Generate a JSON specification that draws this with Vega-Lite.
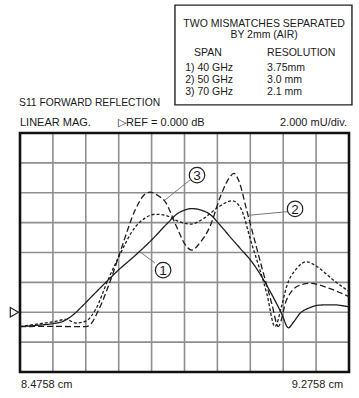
{
  "$schema": "https://vega.github.io/schema/vega-lite/v6.json",
  "width": 359,
  "height": 398,
  "autosize": {"type": "fit", "contains": "padding"},
  "padding": 0,
  "background": "white",
  "config": {"view": {"stroke": null}, "text": {"font": "Liberation Sans", "color": "#1a1a1a"}},
  "datasets": {
    "vgrid": [{"g": 1}, {"g": 2}, {"g": 3}, {"g": 4}, {"g": 5}, {"g": 6}, {"g": 7}, {"g": 8}, {"g": 9}],
    "hgrid": [{"g": 1}, {"g": 2}, {"g": 3}, {"g": 4}, {"g": 5}, {"g": 6}, {"g": 7}],
    "curves": [
      {"s": "1", "x": 0, "y": 1.52}, {"s": "1", "x": 0.5, "y": 1.56}, {"s": "1", "x": 1.0, "y": 1.62}, {"s": "1", "x": 1.27, "y": 1.68},
      {"s": "1", "x": 1.6, "y": 1.9}, {"s": "1", "x": 1.87, "y": 2.18}, {"s": "1", "x": 2.2, "y": 2.55}, {"s": "1", "x": 2.58, "y": 2.97},
      {"s": "1", "x": 3.0, "y": 3.42}, {"s": "1", "x": 3.5, "y": 3.9}, {"s": "1", "x": 4.0, "y": 4.42}, {"s": "1", "x": 4.5, "y": 5.0},
      {"s": "1", "x": 4.76, "y": 5.28}, {"s": "1", "x": 5.0, "y": 5.42}, {"s": "1", "x": 5.22, "y": 5.47}, {"s": "1", "x": 5.5, "y": 5.42},
      {"s": "1", "x": 5.77, "y": 5.28}, {"s": "1", "x": 6.08, "y": 4.92}, {"s": "1", "x": 6.38, "y": 4.53}, {"s": "1", "x": 6.7, "y": 4.13},
      {"s": "1", "x": 7.08, "y": 3.64}, {"s": "1", "x": 7.5, "y": 2.9}, {"s": "1", "x": 7.95, "y": 1.96}, {"s": "1", "x": 8.16, "y": 1.48},
      {"s": "1", "x": 8.3, "y": 1.65}, {"s": "1", "x": 8.51, "y": 1.96}, {"s": "1", "x": 8.8, "y": 2.15}, {"s": "1", "x": 9.12, "y": 2.24},
      {"s": "1", "x": 9.5, "y": 2.25}, {"s": "1", "x": 10.0, "y": 2.18},
      {"s": "2", "x": 0, "y": 1.52}, {"s": "2", "x": 0.5, "y": 1.6}, {"s": "2", "x": 1.0, "y": 1.68}, {"s": "2", "x": 1.4, "y": 1.76},
      {"s": "2", "x": 1.7, "y": 1.64}, {"s": "2", "x": 2.0, "y": 1.7}, {"s": "2", "x": 2.3, "y": 2.1}, {"s": "2", "x": 2.68, "y": 3.1},
      {"s": "2", "x": 3.0, "y": 3.85}, {"s": "2", "x": 3.5, "y": 4.85}, {"s": "2", "x": 3.8, "y": 5.15}, {"s": "2", "x": 4.1, "y": 5.28},
      {"s": "2", "x": 4.4, "y": 5.25}, {"s": "2", "x": 4.8, "y": 5.05}, {"s": "2", "x": 5.17, "y": 4.95}, {"s": "2", "x": 5.6, "y": 5.15},
      {"s": "2", "x": 6.0, "y": 5.5}, {"s": "2", "x": 6.45, "y": 5.73}, {"s": "2", "x": 6.7, "y": 5.5}, {"s": "2", "x": 7.04, "y": 4.3},
      {"s": "2", "x": 7.5, "y": 2.63}, {"s": "2", "x": 7.75, "y": 1.52}, {"s": "2", "x": 7.95, "y": 2.2}, {"s": "2", "x": 8.1, "y": 2.85},
      {"s": "2", "x": 8.4, "y": 3.45}, {"s": "2", "x": 8.71, "y": 3.69}, {"s": "2", "x": 9.0, "y": 3.55}, {"s": "2", "x": 9.5, "y": 3.1},
      {"s": "2", "x": 10.0, "y": 2.69},
      {"s": "3", "x": 0, "y": 1.52}, {"s": "3", "x": 1.0, "y": 1.53}, {"s": "3", "x": 1.6, "y": 1.52}, {"s": "3", "x": 2.0, "y": 1.52},
      {"s": "3", "x": 2.13, "y": 1.58}, {"s": "3", "x": 2.4, "y": 2.1}, {"s": "3", "x": 2.79, "y": 3.19}, {"s": "3", "x": 3.1, "y": 4.2},
      {"s": "3", "x": 3.5, "y": 5.42}, {"s": "3", "x": 3.75, "y": 5.9}, {"s": "3", "x": 3.95, "y": 6.02}, {"s": "3", "x": 4.2, "y": 5.9},
      {"s": "3", "x": 4.4, "y": 5.72}, {"s": "3", "x": 4.76, "y": 4.86}, {"s": "3", "x": 5.0, "y": 4.3}, {"s": "3", "x": 5.22, "y": 4.08},
      {"s": "3", "x": 5.45, "y": 4.3}, {"s": "3", "x": 5.77, "y": 4.86}, {"s": "3", "x": 6.1, "y": 5.9}, {"s": "3", "x": 6.38, "y": 6.53},
      {"s": "3", "x": 6.5, "y": 6.65}, {"s": "3", "x": 6.65, "y": 6.4}, {"s": "3", "x": 6.89, "y": 5.42}, {"s": "3", "x": 7.29, "y": 3.75},
      {"s": "3", "x": 7.65, "y": 2.3}, {"s": "3", "x": 7.85, "y": 1.52}, {"s": "3", "x": 8.1, "y": 2.41}, {"s": "3", "x": 8.51, "y": 2.91},
      {"s": "3", "x": 8.81, "y": 2.97}, {"s": "3", "x": 9.4, "y": 2.8}, {"s": "3", "x": 10.0, "y": 2.52}
    ]
  },
  "layer": [
    {
      "data": {"name": "vgrid"},
      "mark": {"type": "rule", "color": "#8f8f8f", "strokeWidth": 1.6},
      "encoding": {
        "x": {"field": "g", "type": "quantitative", "scale": {"domain": [-0.608, 10.304], "nice": false, "zero": false}, "axis": null},
        "y": {"datum": 0, "type": "quantitative", "scale": {"domain": [-0.87, 12.452], "nice": false, "zero": false}, "axis": null},
        "y2": {"datum": 8}
      }
    },
    {
      "data": {"name": "hgrid"},
      "mark": {"type": "rule", "color": "#8f8f8f", "strokeWidth": 1.6},
      "encoding": {
        "y": {"field": "g", "type": "quantitative"},
        "x": {"datum": 0, "type": "quantitative"},
        "x2": {"datum": 10}
      }
    },
    {
      "data": {"values": [{}]},
      "mark": {"type": "rect", "fill": null, "stroke": "#111111", "strokeWidth": 2.6},
      "encoding": {
        "x": {"datum": 0, "type": "quantitative"},
        "x2": {"datum": 10},
        "y": {"datum": 0, "type": "quantitative"},
        "y2": {"datum": 8}
      }
    },
    {
      "data": {"name": "curves"},
      "mark": {"type": "line", "interpolate": "monotone", "color": "#1e1e1e", "strokeWidth": 1.3},
      "encoding": {
        "x": {"field": "x", "type": "quantitative"},
        "y": {"field": "y", "type": "quantitative"},
        "detail": {"field": "s"},
        "strokeDash": {"field": "s", "type": "nominal", "scale": {"domain": ["1", "2", "3"], "range": [[1, 0], [3, 2], [6, 3]]}, "legend": null}
      }
    },
    {
      "data": {"values": [
        {"x": 5.17, "y": 6.43, "x2": 4.41, "y2": 5.76},
        {"x": 8.16, "y": 5.37, "x2": 6.9, "y2": 5.24},
        {"x": 4.1, "y": 3.65, "x2": 3.65, "y2": 4.02}
      ]},
      "mark": {"type": "rule", "color": "#777777", "strokeWidth": 1},
      "encoding": {
        "x": {"field": "x", "type": "quantitative"},
        "y": {"field": "y", "type": "quantitative"},
        "x2": {"field": "x2"},
        "y2": {"field": "y2"}
      }
    },
    {
      "data": {"values": [
        {"n": "1", "x": 4.35, "y": 3.41},
        {"n": "2", "x": 8.36, "y": 5.46},
        {"n": "3", "x": 5.38, "y": 6.59}
      ]},
      "layer": [
        {
          "mark": {"type": "point", "shape": "circle", "filled": true, "fill": "white", "stroke": "#222222", "strokeWidth": 1.2, "size": 240, "opacity": 1},
          "encoding": {
            "x": {"field": "x", "type": "quantitative"},
            "y": {"field": "y", "type": "quantitative"}
          }
        },
        {
          "mark": {"type": "text", "fontSize": 13.5, "align": "center", "baseline": "middle", "dy": 1},
          "encoding": {
            "x": {"field": "x", "type": "quantitative"},
            "y": {"field": "y", "type": "quantitative"},
            "text": {"field": "n"}
          }
        }
      ]
    },
    {
      "data": {"values": [{}]},
      "mark": {"type": "rect", "fill": "white", "stroke": "#222222", "strokeWidth": 1.4},
      "encoding": {
        "x": {"datum": 4.71, "type": "quantitative"},
        "x2": {"datum": 10.09},
        "y": {"datum": 8.94, "type": "quantitative"},
        "y2": {"datum": 12.28}
      }
    },
    {
      "data": {"values": [
        {"t": "TWO MISMATCHES SEPARATED", "x": 7.42, "y": 11.65},
        {"t": "BY 2mm (AIR)", "x": 7.42, "y": 11.28},
        {"t": "SPAN", "x": 5.71, "y": 10.68}
      ]},
      "mark": {"type": "text", "fontSize": 10.5, "align": "center", "baseline": "middle"},
      "encoding": {
        "x": {"field": "x", "type": "quantitative"},
        "y": {"field": "y", "type": "quantitative"},
        "text": {"field": "t"}
      }
    },
    {
      "data": {"values": [
        {"t": "RESOLUTION", "x": 7.51, "y": 10.68},
        {"t": "1) 40 GHz", "x": 5.02, "y": 10.18},
        {"t": "2) 50 GHz", "x": 5.02, "y": 9.77},
        {"t": "3) 70 GHz", "x": 5.02, "y": 9.37},
        {"t": "3.75mm", "x": 7.51, "y": 10.18},
        {"t": "3.0 mm", "x": 7.51, "y": 9.77},
        {"t": "2.1 mm", "x": 7.51, "y": 9.37}
      ]},
      "mark": {"type": "text", "fontSize": 10.5, "align": "left", "baseline": "middle"},
      "encoding": {
        "x": {"field": "x", "type": "quantitative"},
        "y": {"field": "y", "type": "quantitative"},
        "text": {"field": "t"}
      }
    },
    {
      "data": {"values": [
        {"t": "S11 FORWARD REFLECTION", "x": -0.03, "y": 9.0}
      ]},
      "mark": {"type": "text", "fontSize": 10.3, "align": "left", "baseline": "middle"},
      "encoding": {
        "x": {"field": "x", "type": "quantitative"},
        "y": {"field": "y", "type": "quantitative"},
        "text": {"field": "t"}
      }
    },
    {
      "data": {"values": [
        {"t": "LINEAR MAG.", "x": 0.0, "y": 8.33},
        {"t": "▷REF = 0.000 dB", "x": 2.98, "y": 8.33},
        {"t": "8.4758 cm", "x": 0.03, "y": -0.435}
      ]},
      "mark": {"type": "text", "fontSize": 11, "align": "left", "baseline": "middle"},
      "encoding": {
        "x": {"field": "x", "type": "quantitative"},
        "y": {"field": "y", "type": "quantitative"},
        "text": {"field": "t"}
      }
    },
    {
      "data": {"values": [
        {"t": "2.000 mU/div.", "x": 9.94, "y": 8.33},
        {"t": "9.2758 cm", "x": 9.82, "y": -0.435}
      ]},
      "mark": {"type": "text", "fontSize": 11, "align": "right", "baseline": "middle"},
      "encoding": {
        "x": {"field": "x", "type": "quantitative"},
        "y": {"field": "y", "type": "quantitative"},
        "text": {"field": "t"}
      }
    },
    {
      "data": {"values": [{"ref": 2}]},
      "mark": {"type": "point", "shape": "triangle-right", "filled": false, "stroke": "#222222", "strokeWidth": 1.2, "size": 90, "opacity": 1},
      "encoding": {
        "x": {"datum": -0.17, "type": "quantitative"},
        "y": {"field": "ref", "type": "quantitative"}
      }
    }
  ]
}
